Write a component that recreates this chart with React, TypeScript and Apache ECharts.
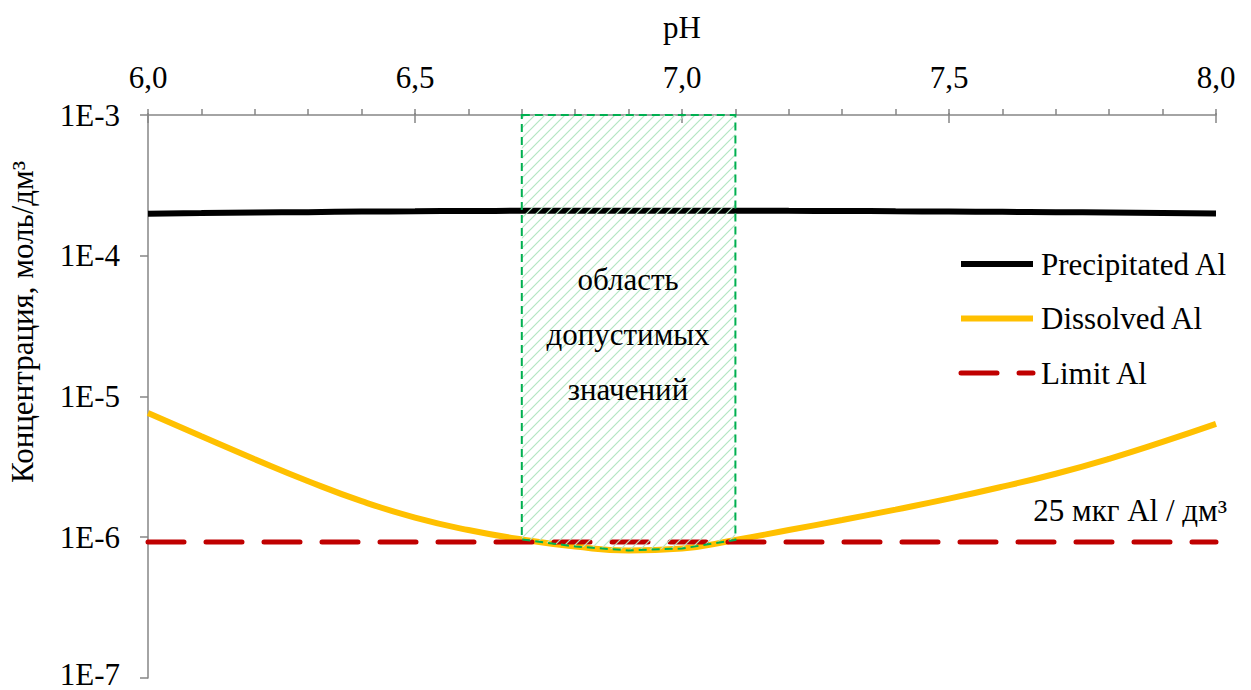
import React, { useEffect, useRef } from 'react';
import * as echarts from 'echarts';

// ---- data ----
const pHValues = [6.0, 6.1, 6.2, 6.3, 6.4, 6.5, 6.6, 6.7, 6.8, 6.9, 7.0, 7.1, 7.2, 7.3, 7.4, 7.5, 7.6, 7.7, 7.8, 7.9, 8.0];
const precipitatedAl = [1.99e-4, 2.01e-4, 2.03e-4, 2.04e-4, 2.06e-4, 2.07e-4, 2.08e-4, 2.085e-4, 2.09e-4, 2.09e-4, 2.09e-4, 2.09e-4, 2.085e-4, 2.08e-4, 2.07e-4, 2.06e-4, 2.05e-4, 2.04e-4, 2.03e-4, 2.015e-4, 2.0e-4];
const dissolvedAl = [7.64e-6, 5.21e-6, 3.58e-6, 2.50e-6, 1.805e-6, 1.379e-6, 1.125e-6, 9.64e-7, 8.60e-7, 8.06e-7, 8.32e-7, 9.56e-7, 1.125e-6, 1.325e-6, 1.572e-6, 1.880e-6, 2.287e-6, 2.827e-6, 3.61e-6, 4.76e-6, 6.39e-6];
const limitPH = [6.0, 8.0];
const limitAl = [9.27e-7, 9.27e-7];
const regionPH = [6.7, 7.1];
const xMin = 6.0, xMax = 8.0, xInterval = 0.5;
const yMin = 1e-7, yMax = 1e-3;
const seriesNames = ['Precipitated Al', 'Dissolved Al', 'Limit Al'];
const regionLabel = 'область\nдопустимых\nзначений';
const limitLabel = '25 мкг Al / дм³';
const yTitle = 'Концентрация, моль/дм³';
const xTitle = 'pH';

const FONT = "'Liberation Serif', 'Times New Roman', serif";
const FS = 31;
const AXIS_GRAY = '#868686';

export default function App() {
  const ref = useRef<HTMLDivElement>(null);
  useEffect(() => {
    if (!ref.current) return;
    const chart = echarts.init(ref.current, undefined, { renderer: 'svg' });

    const c = document.createElement('canvas');
    c.width = 10; c.height = 10;
    const ctx = c.getContext('2d')!;
    ctx.strokeStyle = '#b4e6c3';
    ctx.lineWidth = 1.2;
    ctx.beginPath();
    ctx.moveTo(-1, 11); ctx.lineTo(11, -1);
    ctx.moveTo(-6, 6); ctx.lineTo(6, -6);
    ctx.moveTo(4, 16); ctx.lineTo(16, 4);
    ctx.stroke();
    const hatch: any = { image: c, repeat: 'repeat' };

    const gridTop = 115, gridBottom = 10;
    const gridH = 690 - gridTop - gridBottom;

    const option: any = {
      animation: false,
      backgroundColor: '#fff',
      textStyle: { fontFamily: FONT },
      grid: { left: 148, right: 35, top: gridTop, bottom: gridBottom },
      legend: {
        orient: 'vertical',
        left: 958,
        top: 248.5,
        padding: 0,
        itemWidth: 72,
        itemHeight: 31,
        itemGap: 23.5,
        itemStyle: { opacity: 0 },
        data: [
          { name: seriesNames[0], lineStyle: { width: 6, color: '#000' } },
          { name: seriesNames[1], lineStyle: { width: 6, color: '#FFC000' } },
          { name: seriesNames[2], lineStyle: { width: 5, color: '#C00000', type: [36, 22], cap: 'round' } },
        ],
        textStyle: { fontSize: FS, fontFamily: FONT, color: '#000', padding: [0, 0, 0, 3] },
      },
      xAxis: [
        {
          type: 'value',
          position: 'top',
          min: xMin, max: xMax, interval: xInterval,
          name: xTitle,
          nameLocation: 'middle',
          nameGap: 72,
          nameTextStyle: { fontSize: FS, fontFamily: FONT, color: '#000' },
          axisLine: { show: true, lineStyle: { color: AXIS_GRAY, width: 1.5 } },
          axisTick: { show: true, inside: false, length: 6, lineStyle: { color: AXIS_GRAY, width: 1.5 } },
          minorTick: { show: true, splitNumber: 5, length: 6, lineStyle: { color: AXIS_GRAY, width: 1.5 } },
          axisLabel: {
            margin: 22, fontSize: FS, fontFamily: FONT, color: '#000',
            formatter: (v: number) => v.toFixed(1).replace('.', ','),
          },
          splitLine: { show: false },
        },
        {
          type: 'value',
          position: 'bottom',
          offset: -gridH,
          min: xMin, max: xMax, interval: xInterval,
          axisLine: { show: false },
          axisTick: { show: true, inside: false, length: 10, lineStyle: { color: AXIS_GRAY, width: 1.5 } },
          axisLabel: { show: false },
          splitLine: { show: false },
        },
      ],
      yAxis: {
        type: 'log',
        logBase: 10,
        min: yMin, max: yMax,
        axisLine: { show: true, lineStyle: { color: AXIS_GRAY, width: 1.5 } },
        axisTick: { show: true, length: 8, lineStyle: { color: AXIS_GRAY, width: 1.5 } },
        axisLabel: {
          margin: 28, fontSize: FS, fontFamily: FONT, color: '#000',
          formatter: (v: number) => {
            const e = Math.round(Math.log10(v));
            const s = '1E' + e;
            return v <= yMin * 1.0001 ? '{low|' + s + '}' : s;
          },
          rich: {
            low: { fontSize: FS, fontFamily: FONT, color: '#000', padding: [0, 0, 7, 0] },
          },
        },
        splitLine: { show: false },
      },
      series: [
        {
          name: seriesNames[0],
          type: 'line',
          symbol: 'none',
          smooth: true,
          data: pHValues.map((x, i) => [x, precipitatedAl[i]]),
          lineStyle: { color: '#000', width: 6 },
          itemStyle: { color: '#000' },
          z: 2,
        },
        {
          name: seriesNames[1],
          type: 'line',
          symbol: 'none',
          smooth: true,
          data: pHValues.map((x, i) => [x, dissolvedAl[i]]),
          lineStyle: { color: '#FFC000', width: 6 },
          itemStyle: { color: '#FFC000' },
          z: 3,
        },
        {
          name: seriesNames[2],
          type: 'line',
          symbol: 'none',
          data: limitPH.map((x, i) => [x, limitAl[i]]),
          lineStyle: { color: '#C00000', width: 5, type: [36, 22], cap: 'round' },
          itemStyle: { color: '#C00000' },
          z: 4,
        },
        {
          type: 'custom',
          data: [[regionPH[0], yMax]],
          z: 5,
          silent: true,
          renderItem: (_params: any, api: any) => {
            const pts: number[][] = [];
            pts.push(api.coord([regionPH[0], yMax]));
            pts.push(api.coord([regionPH[1], yMax]));
            for (let i = pHValues.length - 1; i >= 0; i--) {
              if (pHValues[i] >= regionPH[0] - 1e-9 && pHValues[i] <= regionPH[1] + 1e-9) {
                pts.push(api.coord([pHValues[i], dissolvedAl[i]]));
              }
            }
            return {
              type: 'polygon',
              shape: { points: pts },
              style: { fill: hatch, stroke: '#00B050', lineWidth: 2, lineDash: [8, 5] },
            };
          },
        },
      ],
      graphic: [
        {
          type: 'text',
          x: 628, y: 334,
          z: 10,
          style: {
            text: regionLabel,
            fontSize: FS, fontFamily: FONT, fill: '#000',
            align: 'center', verticalAlign: 'middle', lineHeight: 55,
          },
        },
        {
          type: 'text',
          x: 1227, y: 510,
          z: 10,
          style: {
            text: limitLabel,
            fontSize: FS, fontFamily: FONT, fill: '#000',
            align: 'right', verticalAlign: 'middle',
          },
        },
        {
          type: 'text',
          x: 22, y: 322,
          rotation: Math.PI / 2,
          z: 10,
          style: {
            text: yTitle,
            fontSize: FS, fontFamily: FONT, fill: '#000',
            align: 'center', verticalAlign: 'middle',
          },
        },
      ],
    };
    chart.setOption(option);
    return () => chart.dispose();
  }, []);
  return <div ref={ref} style={{ position: 'fixed', left: 0, top: 0, width: 1251, height: 690 }} />;
}
